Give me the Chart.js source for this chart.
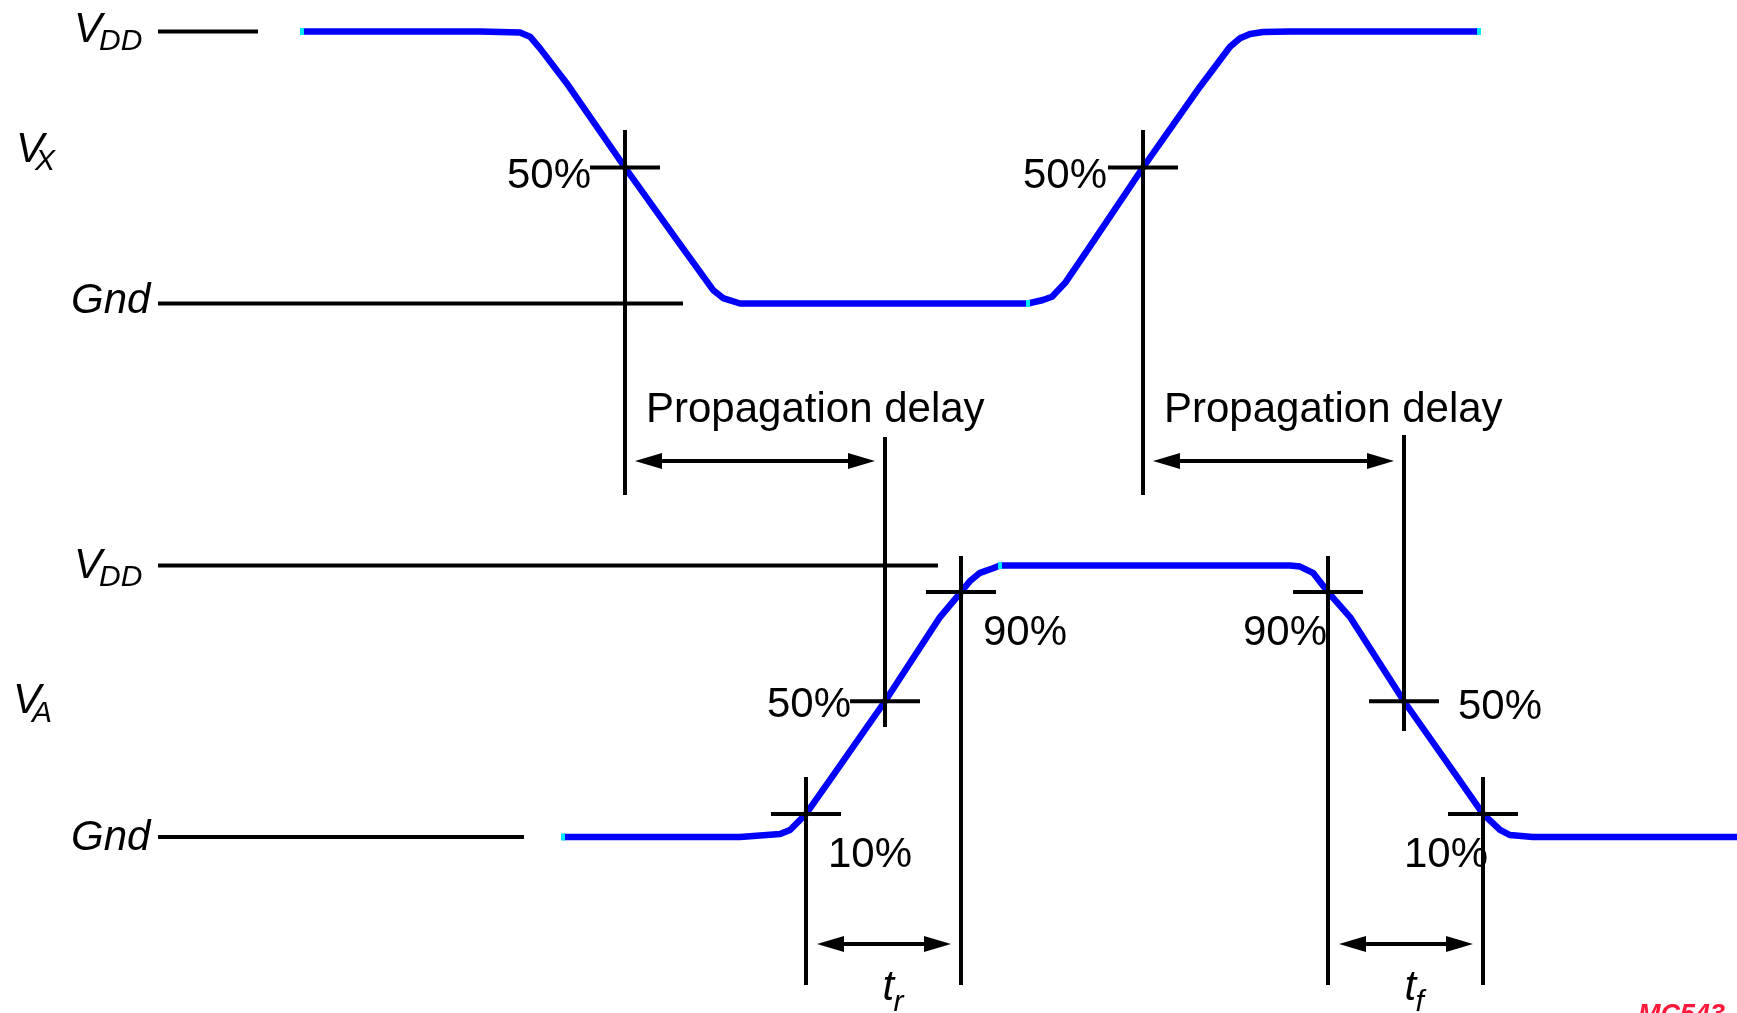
<!DOCTYPE html>
<html>
<head>
<meta charset="utf-8">
<title>Propagation delay</title>
<script src="https://cdn.jsdelivr.net/npm/chart.js@4.4.1/dist/chart.umd.min.js"></script>
<style>
  html, body { margin: 0; padding: 0; background: #fff; }
  #wrap { width: 1737px; height: 1013px; }
</style>
</head>
<body>
<div id="wrap"><canvas id="timing" width="1737" height="1013"></canvas></div>
<script>
// time is in picture units (left to right), level is a fraction of VDD (0 = Gnd, 1 = VDD)
var vxTime  = [302, 480, 520, 530, 540, 568, 625, 677, 713, 723, 740, 1028, 1043, 1052, 1065, 1090, 1143, 1200, 1230, 1240, 1250, 1263, 1290, 1479];
var vxLevel = [1, 1, 0.996, 0.981, 0.938, 0.803, 0.5, 0.233, 0.05, 0.02, 0, 0, 0.013, 0.025, 0.075, 0.21, 0.5, 0.797, 0.944, 0.975, 0.991, 0.998, 1, 1];

var vaTime  = [563, 740, 780, 790, 806, 830, 885, 940, 961, 970, 980, 993, 1000, 1290, 1300, 1313, 1328, 1350, 1404, 1457, 1483, 1500, 1510, 1533, 1737];
var vaLevel = [0, 0, 0.011, 0.026, 0.085, 0.21, 0.5, 0.81, 0.902, 0.943, 0.973, 0.99, 1, 1, 0.996, 0.973, 0.902, 0.81, 0.5, 0.222, 0.085, 0.026, 0.007, 0, 0];

// threshold crossings marked with a cross
var vxCrossTime  = [625, 1143];
var vxCrossLevel = [0.5, 0.5];
var vxCrossText  = ['50%', '50%'];

var vaCrossTime  = [806, 885, 961, 1328, 1404, 1483];
var vaCrossLevel = [0.085, 0.5, 0.902, 0.902, 0.5, 0.085];
var vaCrossText  = ['10%', '50%', '90%', '90%', '50%', '10%'];

// measured intervals: [start, end]
var delayIntervals = [[625, 885], [1143, 1404]];
var riseInterval = [806, 961];
var fallInterval = [1328, 1483];

// small cyan joints on the traces
var vxJointTime = [302, 1028, 1479];
var vxJointLevel = [1, 0, 1];
var vaJointTime = [563, 1000];
var vaJointLevel = [0, 1];

function pts(xs, ys) {
    return xs.map(function (x, i) { return { x: x, y: ys[i] }; });
}

// level axis range so that VDD and Gnd land on the wanted rows
var H = 1013;
function levelRange(pxVdd, pxGnd) {
    var unit = pxGnd - pxVdd;
    return { min: -(H - pxGnd) / unit, max: 1 + pxVdd / unit };
}
var topRange = levelRange(31.5, 303.5);
var botRange = levelRange(565.5, 837);

// ---------------- styling of the drawn marks ----------------
var FONT = '"Liberation Sans", Arial, sans-serif';

var refLines = [
    { axis: 'yTop', level: 1, from: 158, to: 258 },
    { axis: 'yTop', level: 0, from: 158, to: 683 },
    { axis: 'yBot', level: 1, from: 158, to: 938 },
    { axis: 'yBot', level: 0, from: 158, to: 524 }
];

// vertical guide extents (pixel rows) and label placement for each cross
var vxCrossStyle = [
    { y1: 130, y2: 495, dx: -34, dy: 20, align: 'right' },
    { y1: 130, y2: 495, dx: -36, dy: 20, align: 'right' }
];
var vaCrossStyle = [
    { y1: 777, y2: 985, dx: 22, dy: 53, align: 'left' },
    { y1: 437, y2: 727, dx: -34, dy: 16, align: 'right' },
    { y1: 556, y2: 985, dx: 22, dy: 53, align: 'left' },
    { y1: 556, y2: 985, dx: -1, dy: 53, align: 'right' },
    { y1: 435, y2: 731, dx: 54, dy: 18, align: 'left' },
    { y1: 777, y2: 985, dx: 5, dy: 53, align: 'right' }
];

var axisNames = [
    { main: 'V', sub: 'DD', x: 74, y: 42, sx: 99, sy: 50 },
    { main: 'V', sub: 'X', x: 16, y: 162, sx: 35, sy: 170 },
    { main: 'Gnd', sub: '', x: 71, y: 313 },
    { main: 'V', sub: 'DD', x: 74, y: 578, sx: 99, sy: 586 },
    { main: 'V', sub: 'A', x: 13, y: 713, sx: 32, sy: 722 },
    { main: 'Gnd', sub: '', x: 71, y: 850 }
];

function line(ctx, x1, y1, x2, y2) {
    ctx.beginPath();
    ctx.moveTo(x1, y1);
    ctx.lineTo(x2, y2);
    ctx.stroke();
}

function head(ctx, tip, y, dir) {
    ctx.beginPath();
    ctx.moveTo(tip, y);
    ctx.lineTo(tip + dir * 27, y - 8);
    ctx.lineTo(tip + dir * 27, y + 8);
    ctx.closePath();
    ctx.fill();
}

function arrow(ctx, x1, x2, y) {
    line(ctx, x1 + 20, y, x2 - 20, y);
    head(ctx, x1, y, 1);
    head(ctx, x2, y, -1);
}

const timingMarks = {
    id: 'timingMarks',
    afterDatasetsDraw: function (chart) {
        var ctx = chart.ctx;
        var sx = chart.scales.x;
        ctx.save();
        ctx.strokeStyle = '#000';
        ctx.fillStyle = '#000';
        ctx.lineWidth = 4;
        ctx.lineCap = 'butt';

        // VDD / Gnd reference lines
        refLines.forEach(function (r) {
            var py = chart.scales[r.axis].getPixelForValue(r.level);
            line(ctx, sx.getPixelForValue(r.from), py, sx.getPixelForValue(r.to), py);
        });

        // crosses, guides and percentage labels
        ctx.font = '42px ' + FONT;
        ctx.textBaseline = 'alphabetic';
        function crosses(times, levels, texts, styles, scale) {
            times.forEach(function (t, i) {
                var px = sx.getPixelForValue(t);
                var py = scale.getPixelForValue(levels[i]);
                var st = styles[i];
                line(ctx, px, st.y1, px, st.y2);
                line(ctx, px - 35, py, px + 35, py);
                ctx.textAlign = st.align;
                ctx.fillText(texts[i], px + st.dx, py + st.dy);
            });
        }
        crosses(vxCrossTime, vxCrossLevel, vxCrossText, vxCrossStyle, chart.scales.yTop);
        crosses(vaCrossTime, vaCrossLevel, vaCrossText, vaCrossStyle, chart.scales.yBot);

        // propagation delay arrows
        ctx.textAlign = 'left';
        delayIntervals.forEach(function (iv) {
            var a = sx.getPixelForValue(iv[0]), b = sx.getPixelForValue(iv[1]);
            arrow(ctx, a + 10, b - 10, 461);
            ctx.fillText('Propagation delay', a + 21, 422);
        });

        // rise / fall time arrows
        [[riseInterval, 'r'], [fallInterval, 'f']].forEach(function (p) {
            var a = sx.getPixelForValue(p[0][0]), b = sx.getPixelForValue(p[0][1]);
            arrow(ctx, a + 11, b - 10, 944);
            var c = (a + b) / 2;
            ctx.font = 'italic 42px ' + FONT;
            ctx.fillText('t', c - 1, 1000);
            ctx.font = 'italic 30px ' + FONT;
            ctx.fillText(p[1], c + 10, 1011);
        });

        // signal and level names
        axisNames.forEach(function (n) {
            ctx.font = 'italic 42px ' + FONT;
            ctx.fillText(n.main, n.x, n.y);
            if (n.sub) {
                ctx.font = 'italic 30px ' + FONT;
                ctx.fillText(n.sub, n.sx, n.sy);
            }
        });

        // figure id, cut by the bottom edge
        ctx.fillStyle = '#ff1a3c';
        ctx.font = 'italic bold 27px ' + FONT;
        ctx.fillText('MC543', 1638, 1023);
        ctx.restore();
    }
};

var myChart = new Chart(document.getElementById('timing'), {
    type: 'line',
    data: {
        datasets: [{
            label: 'joints Vx',
            type: 'scatter',
            data: pts(vxJointTime, vxJointLevel),
            yAxisID: 'yTop',
            pointStyle: 'line',
            rotation: 90,
            radius: 3.5,
            borderWidth: 4,
            borderColor: '#00e8ff',
            order: 0
        }, {
            label: 'joints VA',
            type: 'scatter',
            data: pts(vaJointTime, vaJointLevel),
            yAxisID: 'yBot',
            pointStyle: 'line',
            rotation: 90,
            radius: 3.5,
            borderWidth: 4,
            borderColor: '#00e8ff',
            order: 0
        }, {
            label: 'Vx',
            data: pts(vxTime, vxLevel),
            yAxisID: 'yTop',
            borderColor: '#0000ff',
            borderWidth: 6.5,
            pointRadius: 0,
            tension: 0,
            borderJoinStyle: 'round',
            fill: false,
            order: 1
        }, {
            label: 'VA',
            data: pts(vaTime, vaLevel),
            yAxisID: 'yBot',
            borderColor: '#0000ff',
            borderWidth: 6.5,
            pointRadius: 0,
            tension: 0,
            borderJoinStyle: 'round',
            fill: false,
            order: 1
        }]
    },
    options: {
        responsive: false,
        animation: false,
        devicePixelRatio: 1,
        layout: { padding: 0, autoPadding: false },
        clip: false,
        plugins: {
            legend: { display: false },
            tooltip: { enabled: false }
        },
        scales: {
            x: { type: 'linear', min: 0, max: 1737, display: false },
            yTop: { type: 'linear', min: topRange.min, max: topRange.max, display: false },
            yBot: { type: 'linear', min: botRange.min, max: botRange.max, display: false }
        }
    },
    plugins: [timingMarks]
});
</script>
</body>
</html>
